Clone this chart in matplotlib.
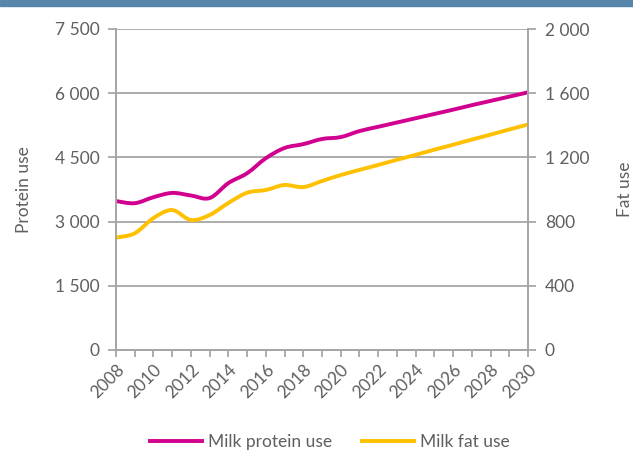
import numpy as np
import matplotlib.pyplot as plt
from matplotlib.path import Path
from matplotlib.patches import PathPatch, Rectangle
from matplotlib.lines import Line2D
from matplotlib.ticker import FuncFormatter

plt.rcParams['font.family'] = ['Lato', 'DejaVu Sans']

years = list(range(2008, 2031))
protein_use = [3480, 3430, 3570, 3670, 3610, 3550, 3900, 4130, 4480, 4720, 4810, 4930, 4975,
               5115, 5215, 5315, 5415, 5515, 5615, 5720, 5820, 5920, 6020]
fat_use = [700, 727, 822, 872, 810, 841, 916, 980, 997, 1028, 1015, 1053, 1090,
           1122, 1153, 1185, 1216, 1248, 1279, 1311, 1342, 1374, 1405]

PROTEIN_COLOR = '#d1008f'
FAT_COLOR = '#ffc000'
GRID = '#a6a6a6'
TEXT = '#5f5f5f'


def smooth_path(x, y):
    # Catmull-Rom style bezier through the points
    x = np.asarray(x, float)
    y = np.asarray(y, float)
    verts = [(x[0], y[0])]
    codes = [Path.MOVETO]
    n = len(x)
    for i in range(n - 1):
        i0 = max(i - 1, 0)
        i3 = min(i + 2, n - 1)
        c1 = (x[i] + (x[i + 1] - x[i0]) / 6, y[i] + (y[i + 1] - y[i0]) / 6)
        c2 = (x[i + 1] - (x[i3] - x[i]) / 6, y[i + 1] - (y[i3] - y[i]) / 6)
        verts += [c1, c2, (x[i + 1], y[i + 1])]
        codes += [Path.CURVE4] * 3
    return Path(verts, codes)


thousands = FuncFormatter(lambda v, p: '{:,.0f}'.format(v).replace(',', ' '))

fig = plt.figure(figsize=(6.33, 4.5), dpi=100)
fig.patches.append(Rectangle((0, 1 - 6 / 450), 1, 6 / 450, transform=fig.transFigure,
                             color='#5886aa', zorder=0))

ax = fig.add_axes([116 / 633, 1 - 350 / 450, 412 / 633, 321 / 450])
ax2 = ax.twinx()

x = np.arange(len(years))
ax.set_xlim(0, len(years) - 1)
ax.set_ylim(0, 7500)
ax2.set_ylim(0, 2000)
ax.set_yticks(np.arange(0, 7501, 1500))
ax2.set_yticks(np.arange(0, 2001, 400))
ax.yaxis.set_major_formatter(thousands)
ax2.yaxis.set_major_formatter(thousands)

ax.grid(axis='y', color=GRID, linewidth=1.3)
ax.set_axisbelow(True)

for a in (ax, ax2):
    for side, sp in a.spines.items():
        sp.set_color(GRID)
        sp.set_linewidth(1.3)
    a.spines['top'].set_visible(False)
    a.tick_params(color=GRID, labelcolor=TEXT, labelsize=12.5, width=1.3, length=6, pad=6)

ax.set_xticks(x)
ax.set_xticklabels([str(yr) if (yr - 2008) % 2 == 0 else '' for yr in years],
                   rotation=45, ha='right', va='top', rotation_mode='anchor')
ax.tick_params(axis='x', pad=3, length=5)

ax.set_ylabel('Protein use', color=TEXT, fontsize=12.5, labelpad=16)
ax2.set_ylabel('Fat use', color=TEXT, fontsize=12.5, labelpad=20)

ax.add_patch(PathPatch(smooth_path(x, protein_use), facecolor='none',
                       edgecolor=PROTEIN_COLOR, linewidth=2.8, capstyle='round'))
ax2.add_patch(PathPatch(smooth_path(x, fat_use), facecolor='none',
                        edgecolor=FAT_COLOR, linewidth=2.8, capstyle='round'))

handles = [Line2D([], [], color=PROTEIN_COLOR, linewidth=2.8),
           Line2D([], [], color=FAT_COLOR, linewidth=2.8)]
leg = fig.legend(handles, ['Milk protein use', 'Milk fat use'], loc='center',
                 bbox_to_anchor=(0.521, 0.018), ncol=2, frameon=False, fontsize=12.5,
                 handlelength=3.0, handletextpad=0.35, columnspacing=1.7, labelcolor=TEXT)

fig.savefig('out.png', dpi=100)
